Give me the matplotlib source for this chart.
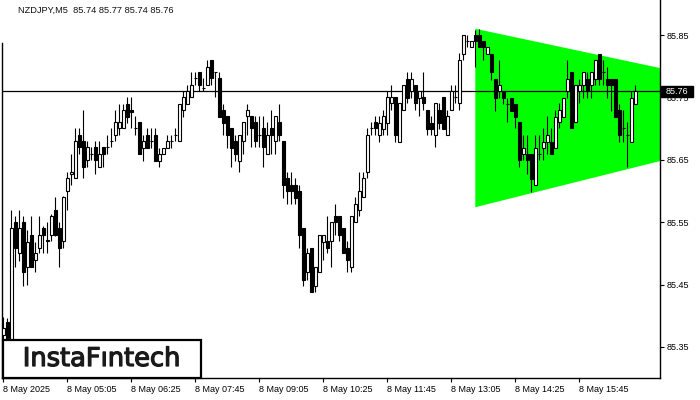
import matplotlib
matplotlib.use("Agg")
import matplotlib.pyplot as plt
from matplotlib.patches import Rectangle, Polygon
import matplotlib.patheffects as pe
import numpy as np

plt.rcParams['font.family'] = ['Liberation Sans', 'DejaVu Sans']

title = "NZDJPY,M5  85.74 85.77 85.74 85.76"

opens = [85.369, 85.390, 85.337, 85.550, 85.501, 85.550, 85.478, 85.529, 85.489, 85.509,
         85.541, 85.521, 85.529, 85.570, 85.541, 85.520, 85.600, 85.628, 85.621, 85.690,
         85.680, 85.650, 85.659, 85.671, 85.638, 85.671, 85.671, 85.680, 85.690, 85.701,
         85.701, 85.739, 85.730, 85.701, 85.711, 85.669, 85.690, 85.680, 85.690, 85.648,
         85.659, 85.669, 85.680, 85.690, 85.680, 85.730, 85.739, 85.751, 85.781, 85.791,
         85.765, 85.770, 85.810, 85.791, 85.781, 85.730, 85.720, 85.701, 85.680, 85.648,
         85.680, 85.720, 85.720, 85.711, 85.690, 85.701, 85.659, 85.701, 85.680, 85.711,
         85.680, 85.621, 85.610, 85.610, 85.600, 85.541, 85.470, 85.509, 85.448, 85.470,
         85.518, 85.520, 85.520, 85.560, 85.560, 85.541, 85.509, 85.478, 85.550, 85.570,
         85.590, 85.630, 85.701, 85.711, 85.690, 85.699, 85.709, 85.741, 85.751, 85.679,
         85.730, 85.779, 85.760, 85.770, 85.749, 85.751, 85.730, 85.709, 85.690, 85.730,
         85.751, 85.690, 85.730, 85.751, 85.741, 85.820, 85.840, 85.831, 85.850, 85.850,
         85.840, 85.820, 85.820, 85.779, 85.760, 85.760, 85.739, 85.749, 85.739, 85.711,
         85.659, 85.659, 85.659, 85.610, 85.659, 85.669, 85.679, 85.679, 85.669, 85.711,
         85.719, 85.760, 85.791, 85.711, 85.760, 85.770, 85.779, 85.770, 85.779, 85.820,
         85.791, 85.779, 85.779, 85.779, 85.730, 85.701, 85.690, 85.679, 85.740]
highs = [85.398, 85.396, 85.570, 85.560, 85.570, 85.560, 85.538, 85.560, 85.518, 85.560,
         85.544, 85.550, 85.563, 85.590, 85.550, 85.592, 85.630, 85.659, 85.701, 85.701,
         85.730, 85.680, 85.671, 85.680, 85.680, 85.671, 85.690, 85.701, 85.730, 85.739,
         85.739, 85.751, 85.751, 85.720, 85.711, 85.690, 85.701, 85.701, 85.701, 85.669,
         85.669, 85.690, 85.690, 85.701, 85.739, 85.760, 85.770, 85.791, 85.791, 85.791,
         85.781, 85.810, 85.810, 85.791, 85.791, 85.739, 85.720, 85.701, 85.690, 85.690,
         85.711, 85.739, 85.720, 85.720, 85.720, 85.720, 85.711, 85.730, 85.720, 85.739,
         85.680, 85.630, 85.630, 85.621, 85.610, 85.541, 85.509, 85.509, 85.478, 85.529,
         85.529, 85.560, 85.550, 85.579, 85.560, 85.541, 85.520, 85.560, 85.590, 85.630,
         85.630, 85.701, 85.711, 85.720, 85.720, 85.730, 85.760, 85.770, 85.751, 85.741,
         85.770, 85.791, 85.791, 85.770, 85.760, 85.791, 85.730, 85.720, 85.741, 85.741,
         85.751, 85.730, 85.770, 85.770, 85.821, 85.850, 85.850, 85.840, 85.858, 85.860,
         85.840, 85.831, 85.820, 85.779, 85.810, 85.760, 85.749, 85.749, 85.739, 85.711,
         85.690, 85.690, 85.659, 85.690, 85.690, 85.701, 85.720, 85.701, 85.730, 85.741,
         85.749, 85.810, 85.791, 85.770, 85.779, 85.791, 85.791, 85.791, 85.810, 85.820,
         85.810, 85.799, 85.779, 85.779, 85.739, 85.730, 85.711, 85.760, 85.770]
lows = [85.353, 85.313, 85.329, 85.478, 85.488, 85.448, 85.449, 85.478, 85.470, 85.500,
        85.500, 85.500, 85.520, 85.528, 85.478, 85.509, 85.570, 85.610, 85.621, 85.659,
        85.621, 85.638, 85.650, 85.628, 85.638, 85.638, 85.659, 85.671, 85.680, 85.690,
        85.701, 85.709, 85.701, 85.690, 85.659, 85.648, 85.669, 85.669, 85.648, 85.638,
        85.659, 85.669, 85.669, 85.680, 85.680, 85.719, 85.739, 85.751, 85.770, 85.760,
        85.760, 85.770, 85.770, 85.751, 85.719, 85.690, 85.669, 85.638, 85.648, 85.630,
        85.659, 85.690, 85.671, 85.671, 85.671, 85.638, 85.659, 85.659, 85.659, 85.680,
        85.589, 85.579, 85.579, 85.579, 85.509, 85.448, 85.457, 85.438, 85.438, 85.470,
        85.489, 85.500, 85.478, 85.529, 85.520, 85.500, 85.470, 85.470, 85.550, 85.560,
        85.590, 85.621, 85.690, 85.690, 85.679, 85.690, 85.690, 85.730, 85.679, 85.679,
        85.730, 85.741, 85.749, 85.730, 85.720, 85.730, 85.690, 85.690, 85.671, 85.699,
        85.699, 85.690, 85.730, 85.741, 85.730, 85.810, 85.831, 85.831, 85.799, 85.831,
        85.810, 85.820, 85.778, 85.728, 85.749, 85.739, 85.711, 85.728, 85.701, 85.638,
        85.650, 85.628, 85.598, 85.610, 85.650, 85.650, 85.659, 85.659, 85.669, 85.701,
        85.719, 85.749, 85.701, 85.711, 85.741, 85.749, 85.749, 85.749, 85.770, 85.770,
        85.770, 85.749, 85.728, 85.719, 85.679, 85.679, 85.638, 85.679, 85.740]
closes = [85.380, 85.337, 85.541, 85.509, 85.541, 85.470, 85.518, 85.478, 85.501, 85.529,
          85.529, 85.520, 85.560, 85.529, 85.509, 85.590, 85.621, 85.630, 85.680, 85.671,
          85.638, 85.671, 85.659, 85.650, 85.659, 85.659, 85.671, 85.680, 85.711, 85.711,
          85.730, 85.719, 85.726, 85.701, 85.659, 85.680, 85.669, 85.680, 85.648, 85.659,
          85.669, 85.680, 85.680, 85.690, 85.739, 85.751, 85.760, 85.770, 85.781, 85.770,
          85.765, 85.799, 85.781, 85.791, 85.719, 85.709, 85.690, 85.669, 85.659, 85.690,
          85.711, 85.730, 85.701, 85.680, 85.690, 85.671, 85.690, 85.690, 85.720, 85.690,
          85.610, 85.600, 85.600, 85.589, 85.529, 85.457, 85.501, 85.438, 85.478, 85.529,
          85.529, 85.509, 85.550, 85.550, 85.529, 85.500, 85.489, 85.560, 85.579, 85.600,
          85.621, 85.690, 85.701, 85.701, 85.709, 85.720, 85.751, 85.751, 85.690, 85.741,
          85.770, 85.749, 85.779, 85.741, 85.760, 85.741, 85.699, 85.699, 85.741, 85.709,
          85.699, 85.720, 85.760, 85.751, 85.810, 85.850, 85.840, 85.840, 85.840, 85.831,
          85.831, 85.831, 85.791, 85.749, 85.770, 85.749, 85.739, 85.728, 85.719, 85.650,
          85.669, 85.650, 85.619, 85.669, 85.659, 85.679, 85.690, 85.659, 85.719, 85.730,
          85.749, 85.779, 85.701, 85.770, 85.770, 85.791, 85.760, 85.791, 85.810, 85.779,
          85.791, 85.770, 85.770, 85.719, 85.690, 85.701, 85.690, 85.749, 85.760]

tick_idx = [0, 16, 32, 48, 64, 80, 96, 112, 128, 144]
tick_labels = ["8 May 2025", "8 May 05:05", "8 May 06:25", "8 May 07:45", "8 May 09:05",
               "8 May 10:25", "8 May 11:45", "8 May 13:05", "8 May 14:25", "8 May 15:45"]
ytick_values = [85.35, 85.45, 85.55, 85.65, 85.75, 85.85]
last_price = 85.76

# triangle pattern (bar index, price)
tri_x = [118, 164.2, 164.2, 118]
tri_y = [85.860, 85.797, 85.648, 85.574]

W, H = 700, 400
fig = plt.figure(figsize=(7, 4), dpi=100)
fig.patch.set_facecolor('white')
ax = fig.add_axes([2 / W, 22 / H, 658 / W, 378 / H])
ax.set_facecolor('white')
ax.set_xlim(-0.325, 164.175)
ax.set_ylim(85.3003, 85.9061)

ax.add_patch(Polygon(list(zip(tri_x, tri_y)), closed=True, facecolor='#00ff00',
                     edgecolor='none', zorder=1))

ax.axhline(last_price, color='black', lw=0.9, zorder=2)

x = np.arange(len(opens))
o = np.array(opens); h = np.array(highs); l = np.array(lows); c = np.array(closes)
ax.vlines(x, l, h, color='black', lw=0.8, zorder=3)
bw = 0.62
for xi, oi, ci in zip(x, o, c):
    if abs(ci - oi) < 1e-9:
        ax.hlines(oi, xi - bw / 2, xi + bw / 2, color='black', lw=0.8, zorder=4)
    else:
        bull = ci > oi
        ax.add_patch(Rectangle((xi - bw / 2, min(oi, ci)), bw, abs(ci - oi),
                               facecolor='white' if bull else 'black',
                               edgecolor='black', lw=0.8, zorder=4))

ax.spines['top'].set_visible(False)
for s in ['left', 'right', 'bottom']:
    ax.spines[s].set_linewidth(1.0)
ax.spines['left'].set_bounds(85.3003, 85.837)

ax.yaxis.tick_right()
ax.set_yticks(ytick_values)
ax.set_yticklabels([f"{v:.2f}" for v in ytick_values])
ax.tick_params(axis='y', direction='out', length=3, width=0.8, pad=2, labelsize=6.5)
ax.set_xticks(tick_idx)
ax.set_xticklabels(tick_labels)
ax.tick_params(axis='x', direction='out', length=3, width=0.8, pad=2, labelsize=6.5)
for lbl in ax.get_xticklabels():
    lbl.set_horizontalalignment('left')

# title
fig.text(18 / W, 1 - 10 / H, title, fontsize=6.7, va='center', ha='left', color='#111111')

# price box
fig.patches.append(Rectangle((661 / W, 1 - 97 / H), 32 / W, 11 / H, transform=fig.transFigure,
                             facecolor='black', edgecolor='black', zorder=5))
fig.text(677 / W, 1 - 91.5 / H, f"{last_price:.2f}", color='white', fontsize=6.5,
         ha='center', va='center', zorder=6)

# logo
fig.patches.append(Rectangle((3 / W, 1 - 378 / H), 198 / W, 38 / H, transform=fig.transFigure,
                             facecolor='white', edgecolor='black', lw=1.6, zorder=7))
fig.text(102 / W, 1 - 359 / H, "InstaFıntech", fontsize=18.5, family='DejaVu Sans',
         color='#1a1a1a', ha='center', va='center', zorder=8,
         path_effects=[pe.withStroke(linewidth=0.9, foreground='#1a1a1a')])

fig.savefig('out.png', dpi=100)
